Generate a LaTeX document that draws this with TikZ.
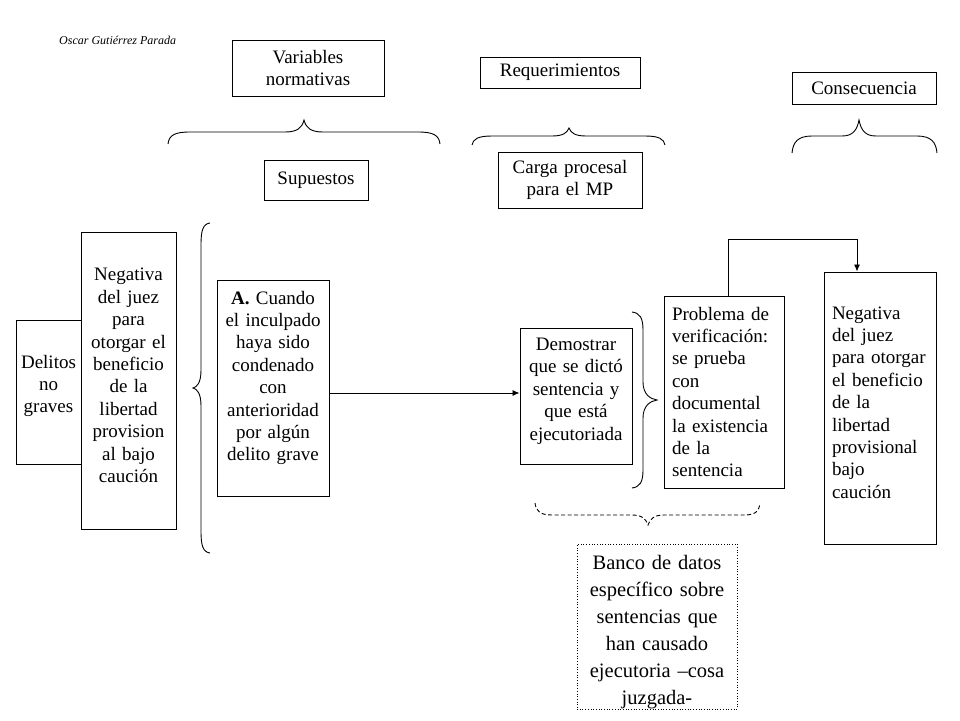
\documentclass[tikz,border=0pt]{standalone}
\usepackage{fontspec}
\setmainfont{Liberation Serif}
\usetikzlibrary{arrows.meta}
\begin{document}
\begin{tikzpicture}[x=1pt,y=-1pt,
  box/.style={draw, line width=1pt, fill=white, inner xsep=6pt, inner ysep=0pt, align=center, font=\fontsize{19}{22.4}\selectfont},
  frame/.style={draw, line width=1pt, fill=white, inner sep=0pt},
  txt/.style={inner sep=0pt, align=center, font=\fontsize{19}{22.4}\selectfont},
  ltxt/.style={txt, align=left},
  dframe/.style={draw, dotted, line width=0.7pt, inner sep=0pt},
  dtxt/.style={txt, font=\fontsize{20.5}{27}\selectfont},
  brace/.style={line width=0.9pt},
  conn/.style={line width=0.9pt},
  tip/.style={-{Latex[length=7pt,width=6pt]}}]
\useasboundingbox (0,0) rectangle (960,720);

\node[font=\fontsize{12}{14}\selectfont\itshape, anchor=west, inner sep=0pt] (auth) at (59,40) {Oscar Gutiérrez Parada};

\node[box, text width=140pt, minimum height=56pt] (varn) at (308,68) {Variables\\normativas};
\node[box, text width=92pt, minimum height=40pt] (supu) at (316,180) {Supuestos};
\node[box, text width=148pt, minimum height=31pt] (requ) at (560,72.5) {Requerimientos};
\node[box, text width=132pt, minimum height=56pt] (carga) at (570,180) {Carga procesal\\para el MP};
\node[box, text width=132pt, minimum height=32pt] (cons) at (864,88) {Consecuencia};

% left group
\node[frame, minimum width=65pt, minimum height=144pt] (deli) at (48.5,392) {};
\node[txt, text width=61pt] (delit) at (48.5,386) {Delitos\\no\\graves};
\node[frame, minimum width=95pt, minimum height=297pt] (neg1) at (128.5,380.5) {};
\node[txt, text width=87pt] (neg1t) at (128.5,375.5) {Negativa\\del juez\\para\\otorgar el\\beneficio\\de la\\libertad\\provision\\al bajo\\caución};
\node[frame, minimum width=112pt, minimum height=216pt] (abox) at (273,388) {};
\node[txt, text width=104pt] (aboxt) at (273,378) {\textbf{A.} Cuando\\el inculpado\\haya sido\\condenado\\con\\anterioridad\\por algún\\delito grave};

% right group
\node[frame, minimum width=112pt, minimum height=136pt] (demo) at (576,396) {};
\node[txt, text width=104pt] (demot) at (576,391) {Demostrar\\que se dictó\\sentencia y\\que está\\ejecutoriada};
\node[frame, minimum width=120pt, minimum height=192pt] (prob) at (724,392) {};
\node[ltxt, text width=104pt] (probt) at (724,392) {Problema de\\verificación:\\se prueba\\con\\documental\\la existencia\\de la\\sentencia};
\node[frame, minimum width=112pt, minimum height=272pt] (neg2) at (880,408) {};
\node[ltxt, text width=96pt] (neg2t) at (880,402.5) {Negativa\\del juez\\para otorgar\\el beneficio\\de la\\libertad\\provisional\\bajo\\caución};
\node[dframe, minimum width=160pt, minimum height=165pt] (banco) at (657,626.5) {};
\node[dtxt, text width=148pt] (bancot) at (657,632.5) {Banco de datos\\específico sobre\\sentencias que\\han causado\\ejecutoria –cosa\\juzgada-};

% connectors
\draw[conn,tip] ([yshift=-5pt]abox.east) -- ([yshift=-5pt]abox.east -| demo.west);
\draw[conn,tip] ([xshift=4pt]prob.north) -- ++(0,-56) -| ([xshift=-23pt]neg2.north);

% braces
\draw[brace] (168,144) .. controls (169,135) and (175,132) .. (190,132) -- (285,132) .. controls (297,132) and (302,128) .. (304,120) .. controls (306,128) and (311,132) .. (323,132) -- (418,132) .. controls (433,132) and (439,135) .. (440,144);
\draw[brace] (472,145) .. controls (473,139) and (478,136) .. (492,136) -- (552,136) .. controls (563,136) and (567,133) .. (569,128) .. controls (571,133) and (575,136) .. (586,136) -- (645,136) .. controls (659,136) and (664,139) .. (665,145);
\draw[brace] (792,153) .. controls (793,142) and (798,136) .. (812,136) -- (842,136) .. controls (853,136) and (857,130) .. (859,120) .. controls (861,130) and (865,136) .. (876,136) -- (917,136) .. controls (931,136) and (936,142) .. (937,153);
\draw[brace] (210,223) .. controls (203,224) and (201,230) .. (201,245) -- (201,370) .. controls (201,383) and (197,387) .. (193,388) .. controls (197,389) and (201,393) .. (201,406) -- (201,531) .. controls (201,546) and (203,552) .. (210,553);
\draw[brace] (632,312) .. controls (640,313) and (643,318) .. (643,330) -- (643,382) .. controls (643,394) and (650,399) .. (657,400) .. controls (650,401) and (643,406) .. (643,418) -- (643,470) .. controls (643,482) and (640,487) .. (632,488);
\draw[brace, dash pattern=on 4pt off 2.5pt] (535,503) .. controls (536,511) and (540,515) .. (552,515) -- (632,515) .. controls (642,515) and (646,519) .. (648,525) .. controls (650,519) and (654,515) .. (664,515) -- (744,515) .. controls (756,515) and (759,511) .. (760,503);
\end{tikzpicture}
\end{document}
